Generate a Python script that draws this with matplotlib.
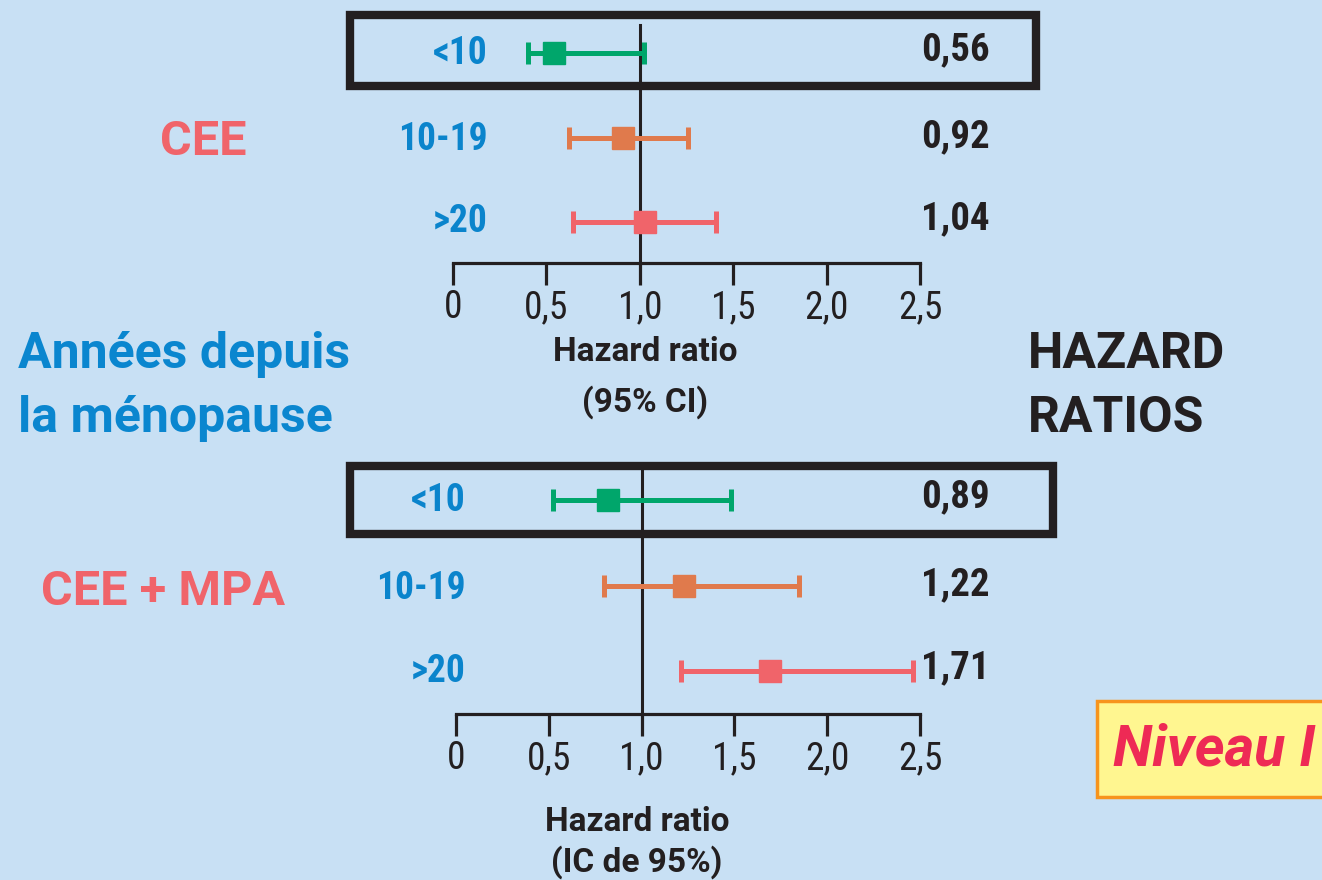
import matplotlib
matplotlib.use("Agg")
import matplotlib.pyplot as plt
from matplotlib.patches import Rectangle
from matplotlib import font_manager

# --- data ---
groups = ["<10", "10-19", ">20"]
hr_labels_cee = ["0,56", "0,92", "1,04"]
hr_cee = [0.54, 0.91, 1.03]
lo_cee = [0.40, 0.62, 0.64]
hi_cee = [1.02, 1.26, 1.41]

hr_labels_mpa = ["0,89", "1,22", "1,71"]
hr_mpa = [0.82, 1.23, 1.69]
lo_mpa = [0.52, 0.80, 1.21]
hi_mpa = [1.48, 1.85, 2.46]

row_colors = ["#00A66B", "#E07A4C", "#F0646A"]
tick_vals = [0, 0.5, 1.0, 1.5, 2.0, 2.5]
tick_text = ["0", "0,5", "1,0", "1,5", "2,0", "2,5"]

BG = "#C8E0F4"
BLUE = "#0A84CC"
SALMON = "#F0646A"
INK = "#231F20"

avail = {f.name for f in font_manager.fontManager.ttflist}
narrow = "Roboto Condensed" if "Roboto Condensed" in avail else "Roboto"
wide = "Roboto" if "Roboto" in avail else "DejaVu Sans"
plt.rcParams["font.family"] = [narrow, "DejaVu Sans"]
WIDE = [wide, "DejaVu Sans"]

W, H = 1322, 880
fig = plt.figure(figsize=(W / 100, H / 100), dpi=100, facecolor=BG)


def px_axes(left, top, right, bottom):
    return fig.add_axes([left / W, 1 - bottom / H, (right - left) / W, (bottom - top) / H])


def fx(x):
    return x / W


def fy(y):
    return 1 - y / H


def forest(ax, hr, lo, hi, ylim, vtop):
    ys = [3, 2, 1]
    ax.set_xlim(0, 2.5)
    ax.set_ylim(*ylim)
    ax.patch.set_alpha(0)
    for s in ["top", "right", "left"]:
        ax.spines[s].set_visible(False)
    ax.spines["bottom"].set_linewidth(2.3)
    ax.spines["bottom"].set_color(INK)
    ax.set_yticks([])
    ax.set_xticks(tick_vals)
    ax.set_xticklabels(tick_text)
    ax.tick_params(axis="x", direction="out", length=16, width=2.3, color=INK,
                   labelsize=27, pad=3, labelcolor=INK)
    ax.plot([1, 1], [ylim[0], vtop], color=INK, lw=2.2, zorder=1)
    for i, y in enumerate(ys):
        ax.errorbar(hr[i], y, xerr=[[hr[i] - lo[i]], [hi[i] - hr[i]]], fmt="s",
                    color=row_colors[i], ms=16, elinewidth=3.6, capsize=8,
                    capthick=3.6, zorder=3)


# top panel (CEE)
ax1 = px_axes(453, 15, 920, 263)
forest(ax1, hr_cee, lo_cee, hi_cee, (0.515, 3.45), 3.33)

# bottom panel (CEE + MPA)
ax2 = px_axes(456, 465, 920, 714)
forest(ax2, hr_mpa, lo_mpa, hi_mpa, (0.497, 3.41), 3.35)

# group labels and HR values
lab_y1 = [53, 140, 222]
lab_y2 = [500, 588, 671]
for i in range(3):
    fig.text(fx(488), fy(lab_y1[i]), groups[i], ha="right", va="center",
             color=BLUE, fontsize=27, fontweight="bold")
    fig.text(fx(990), fy(lab_y1[i] - 3), hr_labels_cee[i], ha="right", va="center",
             color=INK, fontsize=28, fontweight="bold")
    fig.text(fx(466), fy(lab_y2[i]), groups[i], ha="right", va="center",
             color=BLUE, fontsize=27, fontweight="bold")
    fig.text(fx(990), fy(lab_y2[i] - 3), hr_labels_mpa[i], ha="right", va="center",
             color=INK, fontsize=28, fontweight="bold")

# highlight boxes around the <10 rows
fig.patches.append(Rectangle((fx(350), fy(86)), fx(686), 71 / H, transform=fig.transFigure,
                             fill=False, lw=6, ec=INK))
fig.patches.append(Rectangle((fx(350), fy(534)), fx(703), 68 / H, transform=fig.transFigure,
                             fill=False, lw=6, ec=INK))

# treatment labels
fig.text(fx(203), fy(142), "CEE", ha="center", va="center", color=SALMON,
         fontsize=35, fontweight="bold", family=WIDE)
fig.text(fx(163), fy(592), "CEE + MPA", ha="center", va="center", color=SALMON,
         fontsize=35, fontweight="bold", family=WIDE)

# axis titles
fig.text(fx(645), fy(352), "Hazard ratio", ha="center", va="center",
         color=INK, fontsize=24, fontweight="bold", family=WIDE)
fig.text(fx(645), fy(402), "(95% CI)", ha="center", va="center",
         color=INK, fontsize=24, fontweight="bold", family=WIDE)
fig.text(fx(637), fy(822), "Hazard ratio", ha="center", va="center",
         color=INK, fontsize=24, fontweight="bold", family=WIDE)
fig.text(fx(637), fy(862), "(IC de 95%)", ha="center", va="center",
         color=INK, fontsize=24, fontweight="bold", family=WIDE)

# side titles
fig.text(fx(18), fy(355), "Années depuis", ha="left", va="center",
         color="#0A86CF", fontsize=36, fontweight="bold", family=WIDE)
fig.text(fx(18), fy(418), "la ménopause", ha="left", va="center",
         color="#0A86CF", fontsize=36, fontweight="bold", family=WIDE)
fig.text(fx(1028), fy(355), "HAZARD", ha="left", va="center",
         color=INK, fontsize=36, fontweight="bold", family=WIDE)
fig.text(fx(1028), fy(418), "RATIOS", ha="left", va="center",
         color=INK, fontsize=36, fontweight="bold", family=WIDE)

# evidence level tag (cut by the right edge)
fig.patches.append(Rectangle((fx(1097), fy(797)), fx(260), 96 / H, transform=fig.transFigure,
                             fc="#FFF690", ec="#F7941D", lw=2.5))
fig.text(fx(1113), fy(750), "Niveau I", ha="left", va="center", color="#EE2A55",
         fontsize=41, fontweight="bold", fontstyle="italic", family=WIDE)

fig.savefig("out.png", dpi=100, facecolor=BG)
